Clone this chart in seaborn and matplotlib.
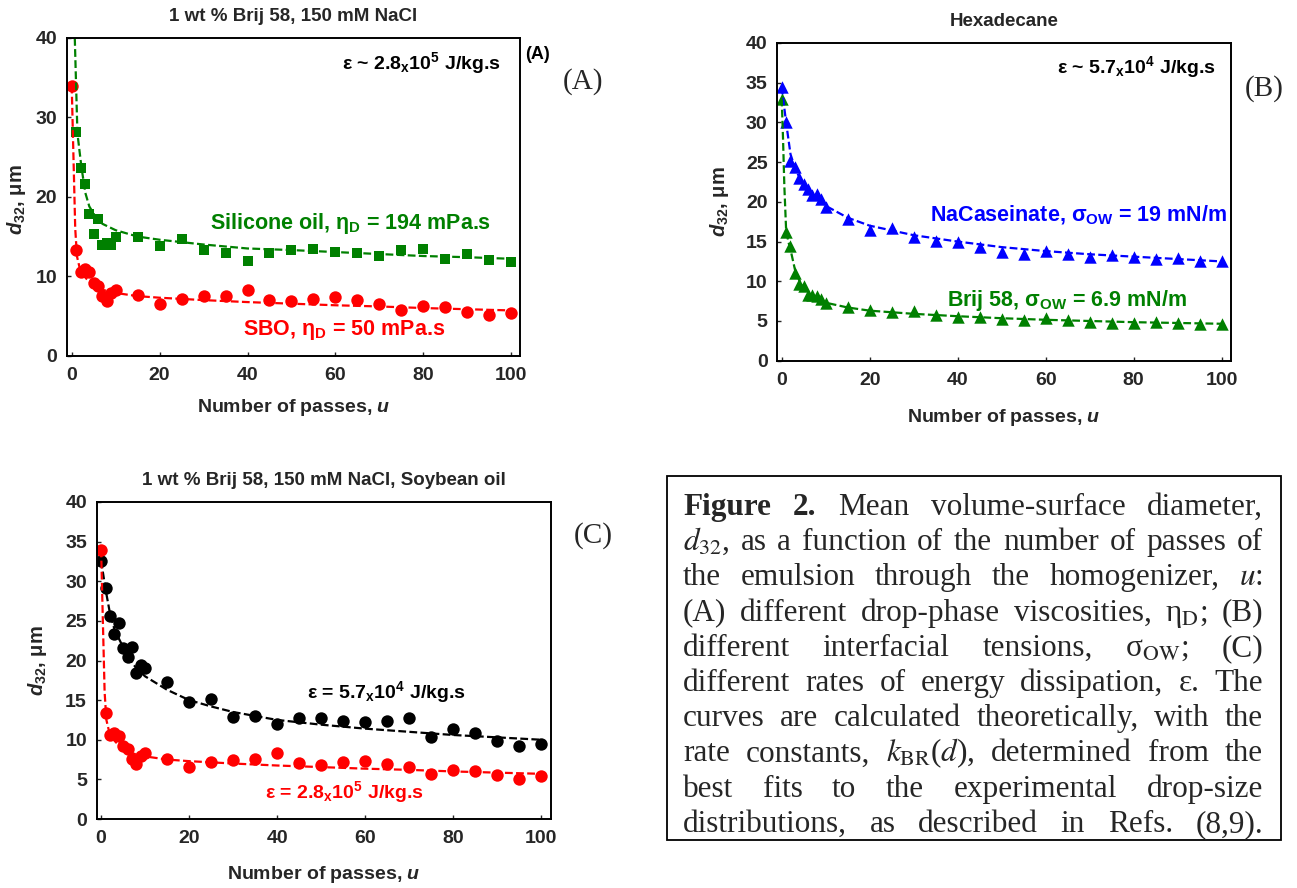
import matplotlib
matplotlib.use("Agg")
import matplotlib.pyplot as plt
import seaborn as sns
from matplotlib.patches import Rectangle

sns.set_style("ticks")
plt.rcParams['font.family'] = ['Liberation Sans', 'DejaVu Sans']
plt.rcParams['mathtext.fontset'] = 'custom'
plt.rcParams['mathtext.rm'] = 'Liberation Sans:bold'
plt.rcParams['mathtext.it'] = 'Liberation Sans:italic:bold'
plt.rcParams['mathtext.bf'] = 'Liberation Sans:bold'

# --- data -----------------------------------------------------------------
u_all = [0, 1, 2, 3, 4, 5, 6, 7, 8, 9, 10, 15, 20, 25, 30, 35, 40, 45, 50,
         55, 60, 65, 70, 75, 80, 85, 90, 95, 100]
u_sil = u_all[1:]

# (A) silicone oil and soybean oil (SBO)
d_sil = [28.2, 23.6, 21.6, 17.8, 15.3, 17.2, 13.9, 14.2, 14.0, 14.9, 14.9,
         13.8, 14.7, 13.3, 12.9, 11.95, 12.9, 13.3, 13.4, 13.05, 12.9, 12.5,
         13.3, 13.4, 12.2, 12.85, 12.1, 11.8]
d_sbo = [33.9, 13.35, 10.6, 10.9, 10.5, 9.2, 8.8, 7.55, 6.9, 7.95, 8.3, 7.6,
         6.5, 7.2, 7.5, 7.55, 8.3, 7.05, 6.85, 7.15, 7.35, 6.95, 6.55, 5.7,
         6.2, 6.1, 5.5, 5.1, 5.4]

# (B) hexadecane
d_nacas = [34.45, 30.0, 25.2, 24.45, 23.0, 22.2, 21.6, 20.9, 21.0, 20.4, 19.4,
           17.9, 16.5, 16.7, 15.55, 15.1, 15.0, 14.3, 13.65, 13.4, 13.8, 13.4,
           13.1, 13.25, 13.0, 12.8, 12.9, 12.5, 12.6]
d_brij = [32.9, 16.2, 14.4, 11.0, 9.7, 9.4, 8.3, 8.3, 8.1, 7.8, 7.3, 6.8, 6.4,
          6.1, 6.25, 5.75, 5.45, 5.45, 5.25, 5.1, 5.35, 5.1, 4.9, 4.8, 4.8,
          4.9, 4.7, 4.6, 4.6]

# (C) lower energy dissipation rate
d_eps57 = [32.6, 29.1, 25.6, 23.3, 24.7, 21.6, 20.4, 21.7, 18.4, 19.4, 19.0,
           17.3, 14.8, 15.1, 12.9, 13.0, 12.05, 12.8, 12.8, 12.35, 12.2, 12.35,
           12.8, 10.4, 11.35, 10.8, 9.9, 9.25, 9.45]

# theoretical curves (dashed)
cu_sil = [0.7, 1.3, 2.2, 3.1, 4, 5.4, 7, 10, 15, 20, 30, 40, 50, 60, 70, 80, 90, 100]
cd_sil = [40, 28, 23.8, 20.5, 18.8, 17.5, 16.6, 15.8, 15.0, 14.6, 14.0, 13.5,
          13.3, 13.05, 12.8, 12.55, 12.4, 12.2]
cu_sbo = [0, 0.4, 0.8, 1.2, 2, 3, 4, 5, 7, 10, 15, 20, 30, 40, 50, 60, 70, 80, 90, 100]
cd_sbo = [34, 25, 16, 12.5, 10.6, 9.9, 9.3, 8.9, 8.3, 7.9, 7.5, 7.3, 7.0, 6.75,
          6.55, 6.35, 6.2, 6.0, 5.85, 5.7]
cu_nacas = [0, 1, 2, 3, 4, 5, 6, 8, 10, 15, 20, 25, 30, 40, 50, 60, 70, 80, 90, 100]
cd_nacas = [34.5, 30, 26, 24.3, 23.1, 22.2, 21.5, 20.4, 19.5, 18.0, 17.0, 16.4,
            15.8, 15.0, 14.3, 13.8, 13.4, 13.1, 12.8, 12.5]
cu_brij = [0, 0.3, 0.6, 1, 1.5, 2, 3, 4, 5, 6, 8, 10, 15, 20, 30, 40, 50, 60,
           70, 80, 90, 100]
cd_brij = [33, 28, 22, 16.5, 15, 14, 11.5, 10.1, 9.2, 8.6, 7.8, 7.3, 6.7, 6.3,
           5.9, 5.6, 5.35, 5.15, 5.0, 4.85, 4.75, 4.65]
cu_eps57 = [0, 1, 2, 3, 4, 6, 8, 10, 15, 20, 25, 30, 40, 50, 60, 70, 80, 90, 100]
cd_eps57 = [32.6, 29, 26, 24, 22.8, 20.6, 19.0, 18.0, 16.3, 15.0, 14.2, 13.5,
            12.5, 11.9, 11.4, 11.0, 10.6, 10.3, 10.0]

caption_lines = [
    ["Figure", "2.", "Mean", "volume-surface", "diameter,"],
    [r"$\mathit{d}_{\mathrm{32}}$,", "as", "a", "function", "of", "the", "number",
     "of", "passes", "of"],
    ["the", "emulsion", "through", "the", "homogenizer,", r"$\mathit{u}$:"],
    ["(A)", "different", "drop-phase", "viscosities,", r"η$_{\mathrm{D}}$;", "(B)"],
    ["different", "interfacial", "tensions,", r"σ$_{\mathrm{OW}}$;", "(C)"],
    ["different", "rates", "of", "energy", "dissipation,", "ε.", "The"],
    ["curves", "are", "calculated", "theoretically,", "with", "the"],
    ["rate", "constants,", r"$\mathit{k}_{\mathrm{BR}}$($\mathit{d}$),",
     "determined", "from", "the"],
    ["best", "fits", "to", "the", "experimental", "drop-size"],
    ["distributions,", "as", "described", "in", "Refs.", "(8,9)."],
]

GREEN = '#008000'
RED = '#ff0000'
BLUE = '#0000ff'
DASH = (0, (3.5, 1.5))

W, H = 1297, 888
fig = plt.figure(figsize=(W / 100, H / 100), dpi=100)


def box(l, t, r, b):
    return [l / W, 1 - b / H, (r - l) / W, (b - t) / H]


def style_axes(ax, xlim, yticks, title):
    ax.set_xlim(*xlim)
    ax.set_ylim(0, 40)
    xt = list(range(0, 101, 20))
    yt = list(yticks)
    ax.set_xticks(xt, [str(v) for v in xt], fontweight='bold')
    ax.set_yticks(yt, [str(v) for v in yt], fontweight='bold')
    for s in ax.spines.values():
        s.set_visible(True)
        s.set_linewidth(1.4)
        s.set_color('black')
    ax.tick_params(direction='in', length=3, width=1, labelsize=14)
    ax.tick_params(axis='x', pad=8)
    ax.tick_params(axis='y', pad=7)
    ax.set_xlabel(r"Number of passes, $\mathit{u}$", fontsize=14, fontweight='bold')
    ax.set_ylabel(r"$\mathit{d}_{\mathrm{32}}$, μm", fontsize=14.5, fontweight='bold')
    ax.set_title(title, fontsize=13.5, fontweight='bold', y=1.068, va='center', pad=0)


def curve(ax, x, y, color):
    sns.lineplot(x=x, y=y, ax=ax, color=color, linewidth=1.6, linestyle=DASH)


def note(ax, x, y, s, color, size=15.5, **kw):
    ax.text(x, y, s, color=color, fontsize=size, fontweight='bold',
            ha='center', va='baseline', **kw)


def panel_tag(ax, x, y, s):
    ax.text(x, y, s, fontsize=21, family='Liberation Serif', ha='center',
            va='center', clip_on=False)


# ---------------- (A) ----------------
ax_a = fig.add_axes(box(66.7, 38, 520, 355.7))
curve(ax_a, cu_sil, cd_sil, GREEN)
curve(ax_a, cu_sbo, cd_sbo, RED)
sns.scatterplot(x=u_sil, y=d_sil, ax=ax_a, marker='s', s=52, color=GREEN, linewidth=0)
sns.scatterplot(x=u_all, y=d_sbo, ax=ax_a, marker='o', s=80, color=RED, linewidth=0)
style_axes(ax_a, (-1.14, 102.0), range(0, 41, 10), "1 wt % Brij 58, 150 mM NaCl")
ax_a.xaxis.set_label_coords(0.5, -0.13)
ax_a.yaxis.set_label_coords(-0.085, 0.49)
note(ax_a, 63.4, 16.0, r"Silicone oil, η$_{\mathrm{D}}$ = 194 mPa.s", GREEN)
note(ax_a, 62.0, 2.65, r"SBO, η$_{\mathrm{D}}$ = 50 mPa.s", RED)
note(ax_a, 79.6, 36.1, r"ε ~ 2.8$_{\mathrm{x}}$10$^{\mathrm{5}}$ J/kg.s", 'black', 14)
note(ax_a, 106.0, 37.3, "(A)", 'black', 13, clip_on=False)
panel_tag(ax_a, 116.4, 34.5, "(A)")

# ---------------- (B) ----------------
ax_b = fig.add_axes(box(777.3, 43, 1230.7, 360.7))
curve(ax_b, cu_nacas, cd_nacas, BLUE)
curve(ax_b, cu_brij, cd_brij, GREEN)
sns.scatterplot(x=u_all, y=d_nacas, ax=ax_b, marker='^', s=80, color=BLUE, linewidth=0)
sns.scatterplot(x=u_all, y=d_brij, ax=ax_b, marker='^', s=80, color=GREEN, linewidth=0)
style_axes(ax_b, (-1.0, 102.05), range(0, 41, 5), "Hexadecane")
ax_b.xaxis.set_label_coords(0.5, -0.146)
ax_b.yaxis.set_label_coords(-0.102, 0.5)
note(ax_b, 67.4, 17.5, r"NaCaseinate, σ$_{\mathrm{OW}}$ = 19 mN/m", BLUE)
note(ax_b, 64.9, 6.9, r"Brij 58, σ$_{\mathrm{OW}}$ = 6.9 mN/m", GREEN)
note(ax_b, 80.7, 36.2, r"ε ~ 5.7$_{\mathrm{x}}$10$^{\mathrm{4}}$ J/kg.s", 'black', 14)
panel_tag(ax_b, 109.7, 34.3, "(B)")

# ---------------- (C) ----------------
ax_c = fig.add_axes(box(96.7, 502, 551, 819))
curve(ax_c, cu_eps57, cd_eps57, 'black')
curve(ax_c, cu_sbo, cd_sbo, RED)
sns.scatterplot(x=u_all, y=d_eps57, ax=ax_c, marker='o', s=80, color='black', linewidth=0)
sns.scatterplot(x=u_all, y=d_sbo, ax=ax_c, marker='o', s=80, color=RED, linewidth=0)
style_axes(ax_c, (-1.0, 102.2), range(0, 41, 5),
           "1 wt % Brij 58, 150 mM NaCl, Soybean oil")
ax_c.xaxis.set_label_coords(0.5, -0.143)
ax_c.yaxis.set_label_coords(-0.105, 0.5)
note(ax_c, 64.8, 15.2, r"ε = 5.7$_{\mathrm{x}}$10$^{\mathrm{4}}$ J/kg.s", 'black', 14)
note(ax_c, 55.2, 2.7, r"ε = 2.8$_{\mathrm{x}}$10$^{\mathrm{5}}$ J/kg.s", RED, 14)
panel_tag(ax_c, 111.8, 35.8, "(C)")

# ---------------- caption box ----------------
fig.add_artist(Rectangle((667 / W, 1 - 840 / H), (1281 - 667) / W, (840 - 476) / H,
                         transform=fig.transFigure, fill=False, edgecolor='black',
                         linewidth=1.3))

fig.canvas.draw()
renderer = fig.canvas.get_renderer()
x_left, x_right = 683, 1263
for i, words in enumerate(caption_lines):
    y_base = 506 + 9 + i * 35.2
    arts = []
    for w in words:
        bold = w in ("Figure", "2.")
        t = fig.text(0, 1 - y_base / H, w, fontsize=22.5, family='Liberation Serif',
                     fontweight='bold' if bold else 'normal', ha='left',
                     va='baseline', math_fontfamily='stix')
        arts.append(t)
    widths = [a.get_window_extent(renderer).width for a in arts]
    gap = (x_right - x_left - sum(widths)) / (len(arts) - 1)
    x = x_left
    for a, w in zip(arts, widths):
        a.set_x(x / W)
        x += w + gap

fig.savefig("out.png", dpi=100)
